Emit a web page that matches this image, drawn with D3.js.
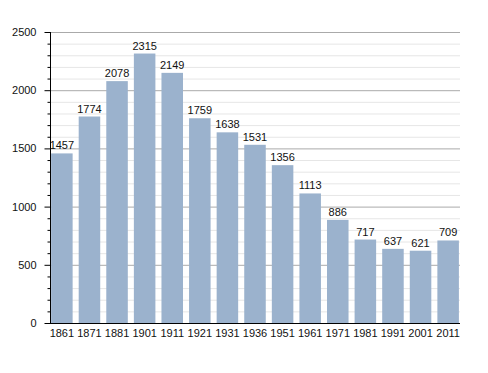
<!DOCTYPE html>
<html>
<head>
<meta charset="utf-8">
<script src="https://cdn.jsdelivr.net/npm/d3@7"></script>
<style>
  body { margin: 0; background: #fff; }
  text { font-family: "Liberation Sans", Arial, sans-serif; }
</style>
</head>
<body>
<svg id="chart" width="488" height="373"></svg>
<script>
const years = ['1861', '1871', '1881', '1901', '1911', '1921', '1931', '1936', '1951', '1961', '1971', '1981', '1991', '2001', '2011'];
const population = [1457, 1774, 2078, 2315, 2149, 1759, 1638, 1531, 1356, 1113, 886, 717, 637, 621, 709];
const yTicks = [0, 500, 1000, 1500, 2000, 2500];

const margin = { top: 32, right: 28, bottom: 50, left: 50 };
const width = 488 - margin.left - margin.right;
const height = 373 - margin.top - margin.bottom;

const svg = d3.select('#chart');
const g = svg.append('g').attr('transform', `translate(${margin.left},${margin.top})`);

const x = d3.scaleBand().domain(years).range([0, width]).paddingInner(0.22).paddingOuter(0.04);
const y = d3.scaleLinear().domain([0, 2500]).range([height, 0]);

const minorVals = d3.range(100, 2500, 100).filter(v => v % 500 !== 0);

// minor grid every 100
g.selectAll('.minor')
    .data(minorVals)
    .enter().append('line')
    .attr('x1', 0).attr('x2', width)
    .attr('y1', d => y(d) + 0.5).attr('y2', d => y(d) + 0.5)
    .attr('stroke', '#e6e6e6');

// major grid
g.selectAll('.major')
    .data(yTicks.slice(1))
    .enter().append('line')
    .attr('x1', 0).attr('x2', width)
    .attr('y1', d => y(d) + 0.5).attr('y2', d => y(d) + 0.5)
    .attr('stroke', '#aaaaaa');

g.selectAll('rect')
    .data(population)
    .enter().append('rect')
    .attr('x', (d, i) => x(years[i]))
    .attr('y', d => y(d))
    .attr('width', x.bandwidth())
    .attr('height', d => height - y(d))
    .attr('fill', '#9bb2cd');

g.selectAll('.lbl')
    .data(population)
    .enter().append('text')
    .attr('x', (d, i) => x(years[i]) + x.bandwidth() / 2)
    .attr('y', d => y(d) - 4)
    .attr('text-anchor', 'middle')
    .attr('font-size', 11)
    .attr('fill', '#111')
    .text(d => d);

// left axis with minor ticks
const yAxis = d3.axisLeft(y).tickValues(yTicks).tickFormat(d3.format('d')).tickSize(6).tickPadding(8);
const ya = g.append('g').attr('transform', 'translate(0.5,0)').call(yAxis);
ya.select('.domain').attr('d', `M0,0V${height}`);
ya.selectAll('text').attr('font-size', 11).attr('fill', '#111').style('font-family', '"Liberation Sans", Arial, sans-serif');
ya.selectAll('.minor-tick')
    .data(minorVals)
    .enter().append('line')
    .attr('x1', -3).attr('x2', 0)
    .attr('y1', d => y(d) + 0.5).attr('y2', d => y(d) + 0.5)
    .attr('stroke', '#000');

// bottom axis
const xAxis = d3.axisBottom(x).tickSize(0).tickPadding(6);
const xa = g.append('g').attr('transform', `translate(0,${height + 0.5})`).call(xAxis);
xa.select('.domain').attr('d', `M0,0H${width}`);
xa.selectAll('text').attr('font-size', 11).attr('fill', '#111').style('font-family', '"Liberation Sans", Arial, sans-serif');
</script>
</body>
</html>
